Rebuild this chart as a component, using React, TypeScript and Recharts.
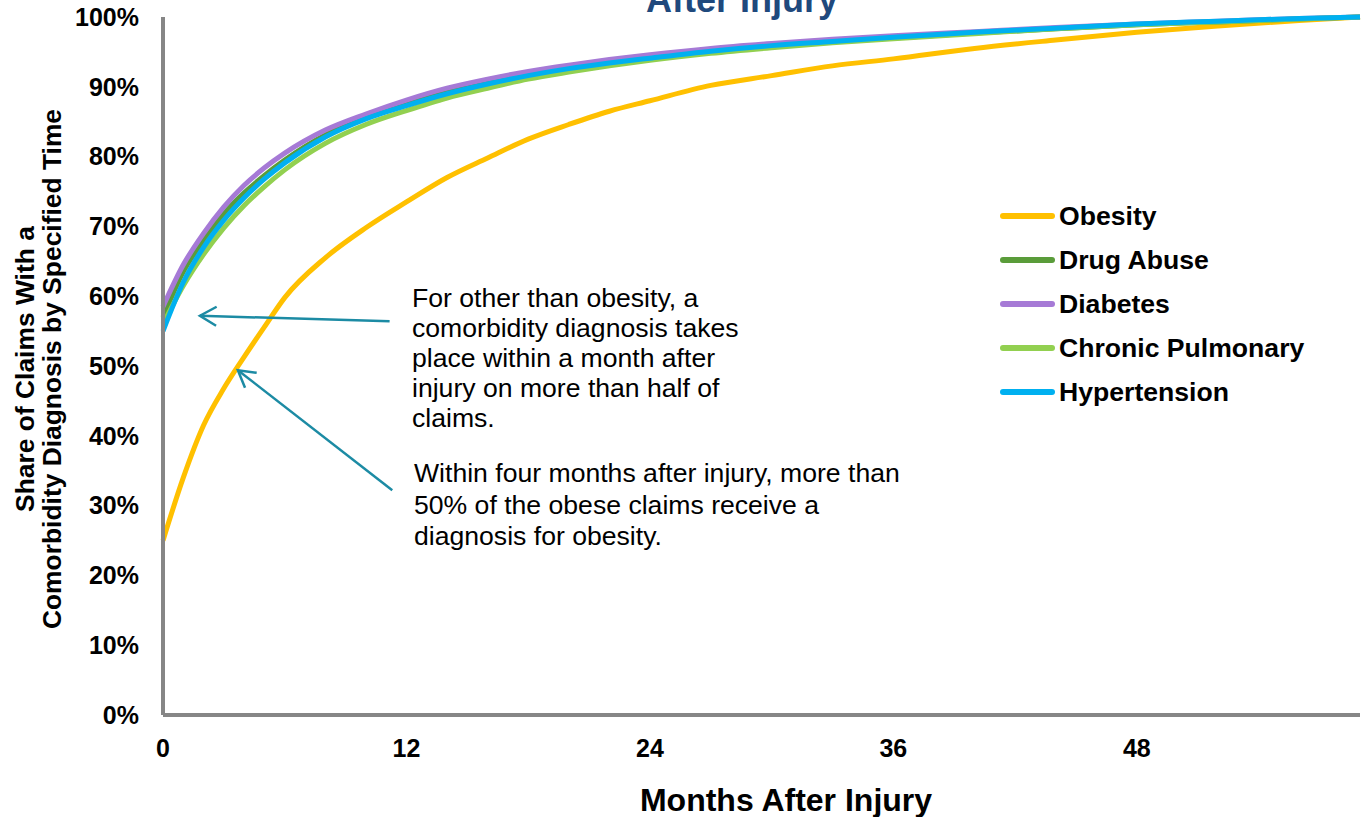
import React from "react";
import {
  LineChart,
  Line,
  XAxis,
  YAxis,
  Legend,
  ReferenceLine,
} from "recharts";

const months = [0, 1, 2, 3, 4, 5, 6, 8, 10, 12, 14, 16, 18, 20, 22, 24, 27, 30, 33, 36, 40, 44, 48, 52, 56, 59];

const obesity = [25, 34, 41.5, 46.8, 51.3, 55.6, 59.8, 65.5, 69.8, 73.5, 77, 79.8, 82.5, 84.6, 86.5, 88, 90.2, 91.6, 93, 94, 95.5, 96.7, 97.8, 98.7, 99.5, 100];
const drugAbuse = [57, 63.5, 68, 71.8, 74.8, 77.3, 79.5, 83.1, 85.6, 87.6, 89.3, 90.6, 91.7, 92.7, 93.5, 94.2, 95.1, 95.9, 96.5, 97.0, 97.7, 98.3, 98.9, 99.3, 99.7, 100];
const diabetes = [58.5, 64.5, 69, 72.8, 75.9, 78.4, 80.5, 83.8, 86.1, 88.1, 89.8, 91.1, 92.2, 93.1, 93.9, 94.6, 95.5, 96.2, 96.8, 97.3, 97.9, 98.5, 99.0, 99.4, 99.8, 100];
const chronicPulmonary = [56, 61.5, 66, 69.8, 73, 75.7, 78.1, 81.9, 84.6, 86.6, 88.4, 89.8, 91.1, 92.1, 93.0, 93.8, 94.8, 95.6, 96.3, 96.9, 97.6, 98.3, 98.9, 99.3, 99.7, 100];
const hypertension = [55, 62, 67, 70.9, 74.1, 76.8, 79.1, 82.8, 85.4, 87.3, 89.0, 90.4, 91.6, 92.6, 93.4, 94.1, 95.1, 95.9, 96.5, 97.1, 97.8, 98.4, 99.0, 99.4, 99.8, 100];

const xTicks = [0, 12, 24, 36, 48];
const yTicks = [0, 10, 20, 30, 40, 50, 60, 70, 80, 90, 100];

const series = [
  { key: "obesity", name: "Obesity", color: "#FFC000", values: obesity },
  { key: "drugAbuse", name: "Drug Abuse", color: "#5A9C3A", values: drugAbuse },
  { key: "diabetes", name: "Diabetes", color: "#A67AD6", values: diabetes },
  { key: "chronicPulmonary", name: "Chronic Pulmonary", color: "#92D050", values: chronicPulmonary },
  { key: "hypertension", name: "Hypertension", color: "#00B0F0", values: hypertension },
];

const data = months.map((m, i) => {
  const row: Record<string, number> = { month: m };
  series.forEach((s) => {
    row[s.key] = s.values[i];
  });
  return row;
});

const FONT = "'Liberation Sans', Arial, sans-serif";
const ARROW = "#1C8BA4";

const Arrow = (p: any) => {
  const { x1, y1, x2, y2 } = p;
  const a = Math.atan2(y2 - y1, x2 - x1);
  const len = 19;
  const spread = Math.PI / 6;
  const ax = x2 - len * Math.cos(a - spread);
  const ay = y2 - len * Math.sin(a - spread);
  const bx = x2 - len * Math.cos(a + spread);
  const by = y2 - len * Math.sin(a + spread);
  return (
    <g>
      <line x1={x1} y1={y1} x2={x2} y2={y2} stroke={ARROW} strokeWidth={2.5} />
      <polyline
        points={`${ax},${ay} ${x2},${y2} ${bx},${by}`}
        fill="none"
        stroke={ARROW}
        strokeWidth={2.5}
      />
    </g>
  );
};

// keep the legend in series order (recharts sorts the payload by name)
const LegendList = (props: any) => {
  const { payload } = props;
  const ordered = series
    .map((s) => payload.find((p: any) => p.dataKey === s.key))
    .filter(Boolean);
  return (
    <div>
      {ordered.map((item: any) => (
        <div
          key={item.value}
          style={{ height: 44, display: "flex", alignItems: "center" }}
        >
          <svg width={59} height={10} style={{ display: "block" }}>
            <line
              x1={3}
              y1={5}
              x2={52}
              y2={5}
              stroke={item.color}
              strokeWidth={6}
              strokeLinecap="round"
            />
          </svg>
          <span
            style={{
              fontFamily: FONT,
              fontWeight: "bold",
              fontSize: 26.6,
              color: "#000",
              whiteSpace: "nowrap",
            }}
          >
            {item.value}
          </span>
        </div>
      ))}
    </div>
  );
};

const tickStyle = {
  fontFamily: FONT,
  fontWeight: "bold",
  fontSize: 25,
  fill: "#000",
};

const App = () => {
  return (
    <div
      style={{
        position: "absolute",
        left: 0,
        top: 0,
        width: 1368,
        height: 817,
        overflow: "hidden",
        background: "#fff",
        fontFamily: FONT,
      }}
    >
      <LineChart
        width={1368}
        height={817}
        data={data}
        margin={{ top: 17, right: 8, bottom: 0, left: 0 }}
      >
        <XAxis
          dataKey="month"
          type="number"
          domain={[0, 59]}
          ticks={xTicks}
          height={102}
          axisLine={{ stroke: "#868686", strokeWidth: 4 }}
          tickLine={false}
          tickSize={0}
          tickMargin={24}
          tick={tickStyle}
        />
        <YAxis
          type="number"
          domain={[0, 100]}
          ticks={yTicks}
          width={163}
          tickFormatter={(v) => `${v}%`}
          axisLine={{ stroke: "#868686", strokeWidth: 4 }}
          tickLine={false}
          tickSize={0}
          tickMargin={24}
          tick={tickStyle}
        />
        <Legend
          layout="vertical"
          align="center"
          verticalAlign="middle"
          wrapperStyle={{ left: 1000, top: 194, width: 360 }}
          content={LegendList}
        />
        {series.map((s) => (
          <Line
            key={s.key}
            dataKey={s.key}
            name={s.name}
            stroke={s.color}
            strokeWidth={5}
            type="monotone"
            dot={false}
            activeDot={false}
            isAnimationActive={false}
          />
        ))}
        <ReferenceLine
          segment={[
            { x: 11.17, y: 56.4 },
            { x: 1.82, y: 57.2 },
          ]}
          shape={Arrow}
        />
        <ReferenceLine
          segment={[
            { x: 11.3, y: 32.2 },
            { x: 3.69, y: 49.4 },
          ]}
          shape={Arrow}
        />
      </LineChart>

      <div
        style={{
          position: "absolute",
          left: 442,
          top: -18,
          width: 600,
          textAlign: "center",
          fontSize: 36,
          lineHeight: "36px",
          fontWeight: "bold",
          color: "#1F497D",
          whiteSpace: "nowrap",
        }}
      >
        After Injury
      </div>

      <div
        style={{
          position: "absolute",
          left: 412,
          top: 283,
          fontSize: 26.6,
          lineHeight: "30px",
          color: "#000",
          whiteSpace: "nowrap",
        }}
      >
        For other than obesity, a
        <br />
        comorbidity diagnosis takes
        <br />
        place within a month after
        <br />
        injury on more than half of
        <br />
        claims.
      </div>

      <div
        style={{
          position: "absolute",
          left: 414,
          top: 458,
          fontSize: 26.6,
          lineHeight: "31.5px",
          color: "#000",
          whiteSpace: "nowrap",
        }}
      >
        Within four months after injury, more than
        <br />
        50% of the obese claims receive a
        <br />
        diagnosis for obesity.
      </div>

      <div
        style={{
          position: "absolute",
          left: 486,
          top: 784,
          width: 600,
          textAlign: "center",
          fontSize: 32,
          lineHeight: "32px",
          fontWeight: "bold",
          color: "#000",
          whiteSpace: "nowrap",
        }}
      >
        Months After Injury
      </div>

      <div
        style={{
          position: "absolute",
          left: -261.5,
          top: 342,
          width: 600,
          height: 54,
          textAlign: "center",
          fontSize: 26.4,
          lineHeight: "27px",
          fontWeight: "bold",
          color: "#000",
          transform: "rotate(-90deg)",
          transformOrigin: "center",
          whiteSpace: "nowrap",
        }}
      >
        Share of Claims With a
        <br />
        Comorbidity Diagnosis by Specified Time
      </div>
    </div>
  );
};

export default App;
